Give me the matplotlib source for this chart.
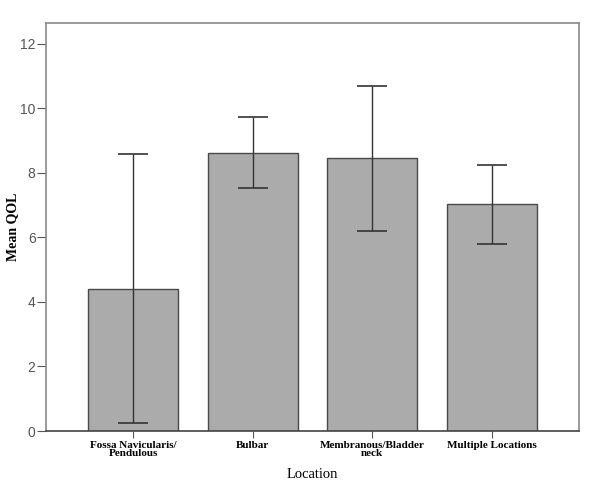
import numpy as np
import matplotlib
matplotlib.use("Agg")
from matplotlib import pyplot as plt

# bar data
locations = ["Fossa Navicularis/\nPendulous", "Bulbar", "Membranous/Bladder\nneck", "Multiple Locations"]
mean_qol = [4.40, 8.62, 8.47, 7.03]
err_low = [0.25, 7.53, 6.20, 5.81]
err_high = [8.59, 9.74, 10.70, 8.24]

fig = plt.figure(figsize=(6.0, 4.94), dpi=100)
ax = fig.add_axes([46 / 600, 63 / 494, 533 / 600, 408 / 494])

x = np.arange(len(locations))
lower = np.array(mean_qol) - np.array(err_low)
upper = np.array(err_high) - np.array(mean_qol)

ax.bar(x, mean_qol, width=0.75, color="#ababab", edgecolor="#4a4a4a", linewidth=1.0, zorder=2)
ax.errorbar(x, mean_qol, yerr=[lower, upper], fmt="none", ecolor="#333333",
            elinewidth=1.0, capsize=11, capthick=1.2, zorder=3)

ax.set_xlim(-0.73, 3.73)
ax.set_ylim(0, 12.65)
ax.set_yticks([0, 2, 4, 6, 8, 10, 12])
ax.set_xticks(x)
ax.set_xticklabels(locations, family="Liberation Serif", fontweight="bold", fontsize=8,
                   linespacing=0.9)
for lbl in ax.get_yticklabels():
    lbl.set_family("Liberation Sans")
    lbl.set_fontsize(10)
    lbl.set_color("#555555")

ax.tick_params(axis="x", length=5, width=0.8, color="#555555", pad=2)
ax.tick_params(axis="y", length=6.5, width=0.8, color="#555555", pad=1)

for side in ["top", "right", "left"]:
    ax.spines[side].set_color("#8a8a8a")
    ax.spines[side].set_linewidth(1.2)
ax.spines["bottom"].set_color("#444444")
ax.spines["bottom"].set_linewidth(1.2)

ax.set_xlabel("Location", family="Liberation Serif", fontsize=10.5, labelpad=7)
ax.set_ylabel("Mean QOL", family="Liberation Serif", fontweight="bold", fontsize=10, labelpad=1)

fig.savefig("out.png", dpi=100)
